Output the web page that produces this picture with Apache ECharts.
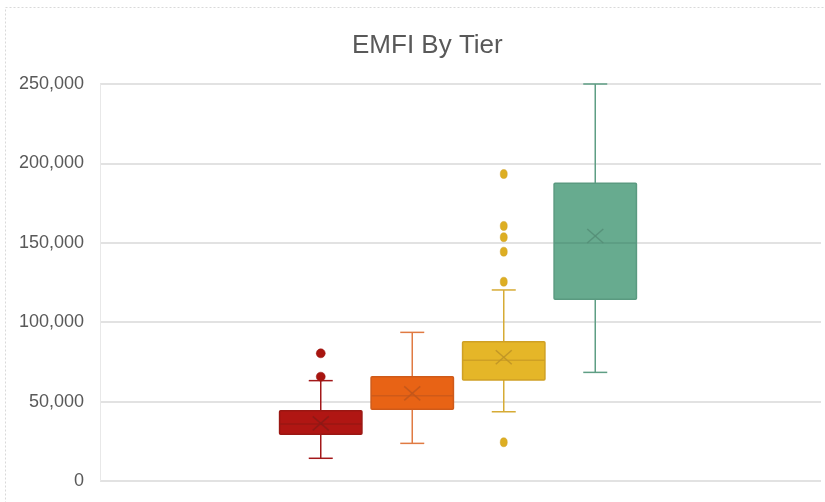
<!DOCTYPE html>
<html>
<head>
<meta charset="utf-8">
<script src="https://cdn.jsdelivr.net/npm/echarts@6/dist/echarts.min.js"></script>
<style>
html,body{margin:0;padding:0;background:#fff;}
#chart{width:825px;height:502px;}
</style>
</head>
<body>
<div id="chart"></div>
<script>
// ---- Data ----
var tiers = ['Tier 1', 'Tier 2', 'Tier 3', 'Tier 4'];
var mins    = [14300, 23700, 43600, 68400];
var q1s     = [29400, 45200, 63600, 114400];
var medians = [35900, 53700, 76000, 149900];
var q3s     = [44300, 65700, 87700, 187500];
var maxs    = [63200, 93600, 120300, 250000];
var means   = [36300, 55200, 77900, 154300];
var outliersTier1 = [80400, 65700];
var outliersTier2 = [];
var outliersTier3 = [193300, 160600, 153500, 144400, 125500, 24400];
var outliersTier4 = [];
var yTicks = [0, 50000, 100000, 150000, 200000, 250000];

// ---- Styles ----
var fills    = ['#B01613', '#E86315', '#E5B628', '#67AB8F'];
var strokes  = ['#9A1713', '#CF5A19', '#CFA024', '#5A9A80'];
var whiskers = ['#A3181A', '#E07A42', '#D6AB35', '#5E9E84'];
var marks    = ['#8C1A16', '#C2561B', '#BF9326', '#558F78'];
var dots     = ['#A8140F', '#E86315', '#DDAE22', '#67AB8F'];

var boxData = tiers.map(function (t, i) {
  return [i, mins[i], q1s[i], medians[i], q3s[i], maxs[i], means[i]];
});
var outlierLists = [outliersTier1, outliersTier2, outliersTier3, outliersTier4];
var outlierData = [];
outlierLists.forEach(function (list, i) {
  list.forEach(function (v) {
    outlierData.push({ value: [i, v], symbolSize: i === 0 ? [9, 9] : [7, 9],
      itemStyle: { color: dots[i], borderColor: strokes[i], borderWidth: 0.5, opacity: 1 } });
  });
});

function renderBox(params, api) {
  var i = api.value(0);
  var band = api.size([1, 0])[0];
  var half = band * 0.45;
  var capHalf = 12;
  var x = api.coord([i, 0])[0];
  var yMin = api.coord([i, api.value(1)])[1];
  var yQ1 = api.coord([i, api.value(2)])[1];
  var yMed = api.coord([i, api.value(3)])[1];
  var yQ3 = api.coord([i, api.value(4)])[1];
  var yMax = api.coord([i, api.value(5)])[1];
  var yMean = api.coord([i, api.value(6)])[1];
  var wc = whiskers[i], sc = strokes[i];
  var lw = { stroke: wc, lineWidth: 1.5 };
  var mx = 8, my = 7;
  return {
    type: 'group',
    children: [
      { type: 'line', shape: { x1: x, y1: yMax, x2: x, y2: yQ3 }, style: lw },
      { type: 'line', shape: { x1: x, y1: yQ1, x2: x, y2: yMin }, style: lw },
      { type: 'line', shape: { x1: x - capHalf, y1: yMax, x2: x + capHalf, y2: yMax }, style: lw },
      { type: 'line', shape: { x1: x - capHalf, y1: yMin, x2: x + capHalf, y2: yMin }, style: lw },
      { type: 'rect', shape: { x: x - half, y: yQ3, width: half * 2, height: yQ1 - yQ3, r: 1 },
        style: { fill: fills[i], stroke: sc, lineWidth: 1.5 } },
      { type: 'line', shape: { x1: x - half, y1: yMed, x2: x + half, y2: yMed }, style: { stroke: sc, lineWidth: 1.5 } },
      { type: 'line', shape: { x1: x - mx, y1: yMean - my, x2: x + mx, y2: yMean + my }, style: { stroke: marks[i], lineWidth: 1.5, opacity: 0.9 } },
      { type: 'line', shape: { x1: x - mx, y1: yMean + my, x2: x + mx, y2: yMean - my }, style: { stroke: marks[i], lineWidth: 1.5, opacity: 0.9 } }
    ]
  };
}

var chart = echarts.init(document.getElementById('chart'), null, { renderer: 'canvas' });
var yMinV = yTicks[0], yMaxV = yTicks[yTicks.length - 1], yStep = yTicks[1] - yTicks[0];

chart.setOption({
  animation: false,
  backgroundColor: '#ffffff',
  title: {
    text: 'EMFI By Tier',
    left: 347,
    top: 28,
    textStyle: { fontFamily: 'Liberation Sans, sans-serif', fontSize: 26, fontWeight: 'normal', color: '#595959' }
  },
  graphic: [
    { type: 'rect', shape: { x: 5.5, y: 7.5, width: 840, height: 600 }, style: { fill: null, stroke: '#d9d9d9', lineWidth: 1, lineDash: [2, 2] }, silent: true, z: -10 }
  ],
  grid: [
    { left: 100, right: 4, top: 84, bottom: 21, containLabel: false },
    { left: 275, width: 366, top: 84, bottom: 21, containLabel: false }
  ],
  xAxis: [
    { gridIndex: 0, type: 'category', data: [''], show: false },
    { gridIndex: 1, type: 'category', data: tiers, show: false }
  ],
  yAxis: [
    {
      gridIndex: 0, type: 'value', min: yMinV, max: yMaxV, interval: yStep,
      axisLine: { show: true, lineStyle: { color: '#e8e8e8', width: 1 } },
      axisTick: { show: false },
      splitLine: { show: true, lineStyle: { color: '#d9d9d9', width: 1.5 } },
      axisLabel: {
        margin: 16, color: '#595959', fontSize: 18,
        fontFamily: 'Liberation Sans, sans-serif',
        padding: [4, 0, 0, 0],
        formatter: function (v) { return v.toLocaleString('en-US'); }
      }
    },
    { gridIndex: 1, type: 'value', min: yMinV, max: yMaxV, interval: yStep, show: false, splitLine: { show: false } }
  ],
  series: [
    {
      type: 'custom', xAxisIndex: 1, yAxisIndex: 1,
      renderItem: renderBox,
      encode: { x: 0, y: [1, 2, 3, 4, 5, 6] },
      data: boxData, z: 3
    },
    {
      type: 'scatter', xAxisIndex: 1, yAxisIndex: 1,
      symbol: 'circle',
      data: outlierData, z: 4
    }
  ]
});
</script>
</body>
</html>
